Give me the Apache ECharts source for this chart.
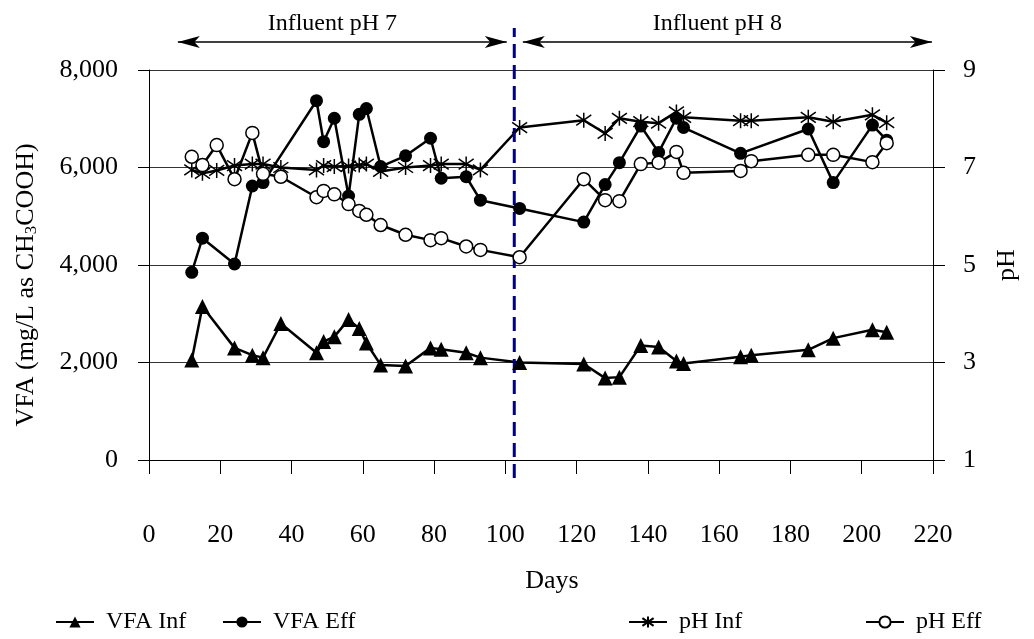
<!DOCTYPE html>
<html>
<head>
<meta charset="utf-8">
<script src="https://cdn.jsdelivr.net/npm/echarts@6/dist/echarts.min.js"></script>
<style>
  html, body { margin: 0; background: #fff; }
  #chart { width: 1034px; height: 639px; }
</style>
</head>
<body>
<div id="chart"></div>
<script>
// Data (days of operation)
var vfaInfDays = [12, 15, 24, 29, 32, 37, 47, 49, 52, 56, 59, 61, 65, 72, 79, 82, 89, 93,
                  104, 122, 128, 132, 138, 143, 148, 150, 166, 169, 185, 192, 203, 207];
var vfaInf = [2050, 3150, 2300, 2150, 2100, 2800, 2200, 2430, 2530, 2880, 2700, 2400, 1950, 1930, 2300, 2270, 2200, 2100,
              2000, 1970, 1680, 1700, 2350, 2320, 2030, 1980, 2120, 2150, 2260, 2500, 2670, 2620];

var vfaEffDays = [12, 15, 24, 29, 32, 47, 49, 52, 56, 59, 61, 65, 72, 79, 82, 89, 93,
                  104, 122, 128, 132, 138, 143, 148, 150, 166, 185, 192, 203, 207];
var vfaEff = [3850, 4550, 4020, 5620, 5690, 7370, 6530, 7010, 5415, 7090, 7210, 6020, 6240, 6600, 5780, 5810, 5330,
              5160, 4880, 5650, 6100, 6850, 6310, 7010, 6820, 6290, 6790, 5690, 6870, 6560];

var phDays = [12, 15, 19, 24, 29, 32, 37, 47, 49, 52, 56, 59, 61, 65, 72, 79, 82, 89, 93,
              104, 122, 128, 132, 138, 143, 148, 150, 166, 169, 185, 192, 203, 207];
var phInf = [6.95, 6.88, 6.94, 7.04, 7.07, 7.07, 7.0, 6.95, 7.04, 7.02, 7.03, 7.05, 7.07, 6.92, 7.0, 7.04, 7.07, 7.07, 6.95,
             7.82, 7.97, 7.70, 8.01, 7.94, 7.91, 8.14, 8.03, 7.96, 7.96, 8.03, 7.94, 8.08, 7.92];
var phEff = [7.22, 7.05, 7.46, 6.76, 7.71, 6.87, 6.81, 6.39, 6.52, 6.45, 6.25, 6.11, 6.03, 5.82, 5.62, 5.51, 5.55, 5.38, 5.31,
             5.16, 6.76, 6.33, 6.31, 7.07, 7.10, 7.32, 6.89, 6.93, 7.13, 7.26, 7.26, 7.11, 7.50];

// phase change and the two influent pH periods
var switchDay = 102.5;
var phaseLabels = ['Influent pH 7', 'Influent pH 8'];
var phaseStart = [8.1, 104.9];
var phaseEnd = [100.4, 219.7];

var seriesNames = ['VFA Inf', 'VFA Eff', 'pH Inf', 'pH Eff'];
var legendLeft = [50, 217, 623, 860];

function pairs(xs, ys) {
  return xs.map(function (x, i) { return [x, ys[i]]; });
}

var font = 'Liberation Serif, Times New Roman, serif';
var black = '#000';
var asterisk = 'path://M10,0L10,20M2,3L18,17M2,17L18,3';

var myChart = echarts.init(document.getElementById('chart'));

var option = {
  animation: false,
  textStyle: { fontFamily: font, color: black },
  grid: [
    { left: 149, right: 101, top: 70, bottom: 179 },
    { left: 149, right: 101, top: 28, bottom: 161 }
  ],
  legend: seriesNames.map(function (n, i) {
    return {
      data: [n],
      left: legendLeft[i],
      top: 605,
      itemWidth: 38,
      itemHeight: 14,
      selectedMode: false,
      textStyle: { fontFamily: font, fontSize: 24, color: black, padding: [0, 0, 0, 7] }
    };
  }),
  xAxis: [
    {
      gridIndex: 0, type: 'value', min: 0, max: 220, interval: 20,
      axisLine: { onZero: false, lineStyle: { color: black, width: 1 } },
      axisTick: { length: 14, lineStyle: { color: black } },
      axisLabel: { margin: 62, fontSize: 26, color: black, fontFamily: font },
      splitLine: { show: false },
      name: 'Days', nameLocation: 'middle', nameGap: 108,
      nameTextStyle: { fontSize: 26, color: black, fontFamily: font, padding: [0, 0, 0, 22] }
    },
    { gridIndex: 1, type: 'value', min: 0, max: 220, show: false }
  ],
  yAxis: [
    {
      gridIndex: 0, type: 'value', min: 0, max: 8000, interval: 2000, position: 'left',
      axisLine: { show: true, lineStyle: { color: black, width: 1 } },
      axisTick: { show: true, length: 11, lineStyle: { color: black } },
      axisLabel: {
        margin: 31, fontSize: 26, color: black, fontFamily: font,
        formatter: function (v) { return v.toLocaleString('en-US'); }
      },
      splitLine: { lineStyle: { color: '#333', width: 1 } },
      name: 'VFA (mg/L as CH{sub|3}COOH)', nameLocation: 'middle', nameGap: 109,
      nameTextStyle: {
        fontSize: 26, color: black, fontFamily: font, padding: [0, 40, 0, 0],
        rich: { sub: { fontSize: 17, fontFamily: font, color: black, verticalAlign: 'bottom', padding: [10, 0, 0, 0] } }
      }
    },
    {
      gridIndex: 0, type: 'value', min: 1, max: 9, interval: 2, position: 'right',
      axisLine: { show: true, lineStyle: { color: black, width: 1 } },
      axisTick: { show: true, length: 12, lineStyle: { color: black } },
      axisLabel: { margin: 30, fontSize: 26, color: black, fontFamily: font },
      splitLine: { show: false },
      name: 'pH', nameLocation: 'middle', nameGap: 61,
      nameTextStyle: { fontSize: 26, color: black, fontFamily: font }
    },
    { gridIndex: 1, type: 'value', min: 0, max: 1, show: false }
  ],
  series: [
    {
      name: 'VFA Inf', type: 'line', xAxisIndex: 0, yAxisIndex: 0,
      data: pairs(vfaInfDays, vfaInf),
      symbol: 'triangle', symbolSize: 15,
      lineStyle: { color: black, width: 2.5 },
      itemStyle: { color: black, borderWidth: 0 }
    },
    {
      name: 'VFA Eff', type: 'line', xAxisIndex: 0, yAxisIndex: 0,
      data: pairs(vfaEffDays, vfaEff),
      symbol: 'circle', symbolSize: 13,
      lineStyle: { color: black, width: 2.5 },
      itemStyle: { color: black, borderWidth: 0 }
    },
    {
      name: 'pH Inf', type: 'line', xAxisIndex: 0, yAxisIndex: 1,
      data: pairs(phDays, phInf),
      symbol: asterisk, symbolSize: 15,
      lineStyle: { color: black, width: 2.5 },
      itemStyle: { color: black, borderColor: black, borderWidth: 1.5 }
    },
    {
      name: 'pH Eff', type: 'line', xAxisIndex: 0, yAxisIndex: 1,
      data: pairs(phDays, phEff),
      symbol: 'circle', symbolSize: 13,
      lineStyle: { color: black, width: 2.5 },
      itemStyle: { color: '#fff', borderColor: black, borderWidth: 1.5 }
    },
    {
      name: 'switch', type: 'line', xAxisIndex: 1, yAxisIndex: 2, silent: true,
      data: [[switchDay, 0], [switchDay, 1]],
      symbol: 'none',
      lineStyle: { color: '#000080', width: 3, type: [14, 7] },
      markLine: {
        silent: true,
        symbol: ['arrow', 'arrow'],
        symbolSize: [9, 22],
        lineStyle: { color: black, width: 1.5, type: 'solid' },
        label: {
          show: true, position: 'insideMiddleTop', distance: 6, formatter: '{b}',
          fontSize: 24, color: black, fontFamily: font, padding: [0, 20, 0, 0]
        },
        data: phaseLabels.map(function (t, i) {
          return [{ coord: [phaseStart[i], 0.969], name: t }, { coord: [phaseEnd[i], 0.969] }];
        })
      }
    }
  ]
};

myChart.setOption(option);
</script>
</body>
</html>
